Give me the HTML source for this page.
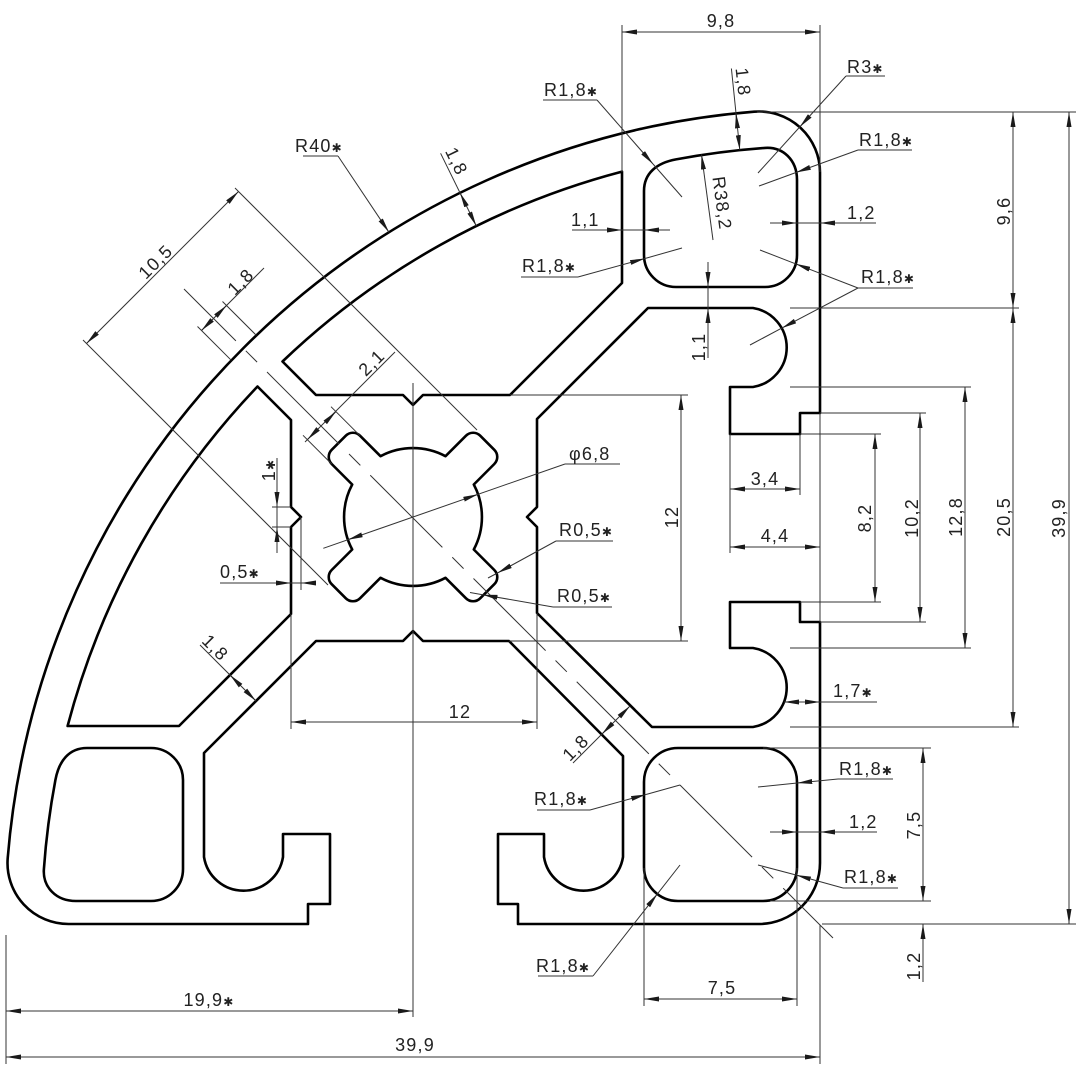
<!DOCTYPE html>
<html>
<head>
<meta charset="utf-8">
<style>
html,body{margin:0;padding:0;background:#fff;}
svg{display:block;}
.p{fill:none;stroke:#000;stroke-width:2.6;stroke-linejoin:round;stroke-linecap:round;}
.d line,.d path{fill:none;stroke:#333;stroke-width:1;}
text{font-family:"Liberation Sans","DejaVu Sans",sans-serif;font-size:18px;fill:#222;letter-spacing:1.2px;}
.s{font-family:"DejaVu Sans",sans-serif;font-size:12px;}
</style>
</head>
<body>
<svg width="1080" height="1080" viewBox="0 0 1080 1080" xmlns="http://www.w3.org/2000/svg">
<defs>
<marker id="a" viewBox="0 0 15 5" refX="15" refY="2.5" markerWidth="15" markerHeight="5" markerUnits="userSpaceOnUse" orient="auto-start-reverse"><path d="M0,0 L15,2.5 L0,5 Z" fill="#1a1a1a"/></marker>
</defs>
<rect width="1080" height="1080" fill="#fff"/>

<!-- PROFILE -->
<g class="p">
<path d="M754.1,111.7 A61,61 0 0 1 820,172.5 L820,413 L800,413 L800,434 L730,434 L730,387 L753,387 A40,40 0 0 0 753,308 L648,308 L537,419 L537,507 L527,517 L537,527 L537,613 L652,727 L753,727 A40,40 0 0 0 753,648 L730,648 L730,602 L800,602 L800,622 L820,622 L820,863 A61,61 0 0 1 759,924 L518,924 L518,904 L498,904 L498,834 L544,834 L544,857 A40,40 0 0 0 623,857 L623,756 L509,641 L423,641 L413,631 L403,641 L316,641 L204,753 L204,857 A40,40 0 0 0 283,857 L283,834 L330,834 L330,904 L308,904 L308,924 L68.5,924 A61,61 0 0 1 7.7,858.1 A815,815 0 0 1 754.1,111.7 Z"/>
<path d="M282.5,361.5 A778,778 0 0 1 622,171.6 L622,283 L510,395 L423,395 L413,405 L403,395 L316,395 Z"/>
<path d="M257.5,386.5 L291,420 L291,507 L301,517 L291,527 L291,614 L179,726 L67.6,726 A778,778 0 0 1 257.5,386.5 Z"/>
<path d="M644,191 C644,173 657,162.9 676,159.4 A778,778 0 0 1 765,147.9 C783,146.6 797,160 797,179.9 L797,255 A32,32 0 0 1 765,287 L676,287 A32,32 0 0 1 644,255 Z"/>
<path d="M87,748 C69,748 58.9,761 55.4,780 A778,778 0 0 0 43.9,869 C42.6,887 56,901 75.9,901 L151,901 A32,32 0 0 0 183,869 L183,780 A32,32 0 0 0 151,748 Z"/>
<path d="M678,748 L763,748 A34,34 0 0 1 797,782 L797,867 A34,34 0 0 1 763,901 L678,901 A34,34 0 0 1 644,867 L644,782 A34,34 0 0 1 678,748 Z"/>
<path d="M445.5,456.2 L466,435.7 A10,10 0 0 1 480.2,435.7 L494.3,449.8 A10,10 0 0 1 494.3,464 L473.8,484.5 A69,69 0 0 1 473.8,549.5 L494.3,570 A10,10 0 0 1 494.3,584.2 L480.2,598.3 A10,10 0 0 1 466,598.3 L445.5,577.8 A69,69 0 0 1 380.5,577.8 L360,598.3 A10,10 0 0 1 345.8,598.3 L331.7,584.2 A10,10 0 0 1 331.7,570 L352.2,549.5 A69,69 0 0 1 352.2,484.5 L331.7,464 A10,10 0 0 1 331.7,449.8 L345.8,435.7 A10,10 0 0 1 360,435.7 L380.5,456.2 A69,69 0 0 1 445.5,456.2 Z"/>
</g>

<!-- DIMENSIONS / EXTENSION LINES -->
<g class="d">
<line x1="184" y1="289" x2="833" y2="938" stroke-dasharray="102 14 16 14" stroke-dashoffset="28.6"/>
<line x1="413" y1="383" x2="413" y2="1017"/>

<line x1="622" y1="25" x2="622" y2="172"/>
<line x1="820" y1="25" x2="820" y2="172"/>
<line x1="622" y1="32" x2="820" y2="32" marker-start="url(#a)" marker-end="url(#a)"/>

<line x1="731.4" y1="68.5" x2="739.8" y2="150.1" marker-end="url(#a)"/>
<line x1="737.5" y1="128.2" x2="736" y2="113.3" marker-end="url(#a)"/>
<line x1="713" y1="240" x2="701.5" y2="154.5" marker-end="url(#a)"/>

<line x1="543" y1="100" x2="597" y2="100"/>
<line x1="597" y1="100" x2="653" y2="164" marker-end="url(#a)"/>
<line x1="653" y1="164" x2="682" y2="197"/>
<line x1="846" y1="76" x2="885" y2="76"/>
<line x1="846" y1="76" x2="799.7" y2="127" marker-end="url(#a)"/>
<line x1="799.7" y1="127" x2="758" y2="173"/>
<line x1="858" y1="150" x2="912" y2="150"/>
<line x1="858" y1="150" x2="796" y2="172.5" marker-end="url(#a)"/>
<line x1="796" y1="172.5" x2="759" y2="186"/>
<line x1="572" y1="230" x2="670" y2="230"/>
<line x1="607" y1="230" x2="622" y2="230" marker-end="url(#a)"/>
<line x1="659" y1="230" x2="644" y2="230" marker-end="url(#a)"/>
<line x1="770" y1="223" x2="876" y2="223"/>
<line x1="782" y1="223" x2="797" y2="223" marker-end="url(#a)"/>
<line x1="835" y1="223" x2="820" y2="223" marker-end="url(#a)"/>
<line x1="521" y1="277" x2="578" y2="277"/>
<line x1="578" y1="277" x2="645" y2="258.5" marker-end="url(#a)"/>
<line x1="645" y1="258.5" x2="682" y2="248"/>
<line x1="858" y1="288" x2="913" y2="288"/>
<line x1="858" y1="288" x2="795.5" y2="263.8" marker-end="url(#a)"/>
<line x1="795.5" y1="263.8" x2="760" y2="250"/>
<line x1="858" y1="288" x2="781.8" y2="328.1" marker-end="url(#a)"/>
<line x1="781.8" y1="328.1" x2="750" y2="345"/>
<line x1="708" y1="262" x2="708" y2="358"/>
<line x1="708" y1="272" x2="708" y2="287" marker-end="url(#a)"/>
<line x1="708" y1="323" x2="708" y2="308" marker-end="url(#a)"/>

<line x1="303" y1="156" x2="338" y2="156"/>
<line x1="338" y1="156" x2="389" y2="232.3" marker-end="url(#a)"/>
<line x1="440.6" y1="153.3" x2="476.3" y2="226" marker-end="url(#a)"/>
<line x1="466.6" y1="206.3" x2="460" y2="192.8" marker-end="url(#a)"/>

<line x1="235" y1="188" x2="477" y2="430"/>
<line x1="83" y1="340" x2="328" y2="585"/>
<line x1="86.5" y1="343.5" x2="238.5" y2="191.5" marker-start="url(#a)" marker-end="url(#a)"/>
<line x1="222.5" y1="301.5" x2="256.3" y2="335.3"/>
<line x1="197.5" y1="326.5" x2="231.3" y2="360.3"/>
<line x1="201.5" y1="330.5" x2="264" y2="268"/>
<line x1="212" y1="320" x2="201.5" y2="330.5" marker-end="url(#a)"/>
<line x1="216" y1="316" x2="226.5" y2="305.5" marker-end="url(#a)"/>
<line x1="331.7" y1="464" x2="303" y2="435.3"/>
<line x1="360" y1="435.7" x2="331" y2="406.7"/>
<line x1="305" y1="442" x2="395" y2="352"/>
<line x1="318" y1="429" x2="307.5" y2="439.5" marker-end="url(#a)"/>
<line x1="325.3" y1="422.3" x2="335.8" y2="411.8" marker-end="url(#a)"/>

<line x1="565" y1="464" x2="620" y2="464"/>
<line x1="565" y1="464" x2="323.3" y2="548.3"/>
<line x1="463.9" y1="499.2" x2="478.1" y2="494.3" marker-end="url(#a)"/>
<line x1="362.1" y1="534.8" x2="347.9" y2="539.7" marker-end="url(#a)"/>
<line x1="556" y1="541" x2="613" y2="541"/>
<line x1="556" y1="541" x2="497.5" y2="573" marker-end="url(#a)"/>
<line x1="497.5" y1="573" x2="488" y2="578"/>
<line x1="553" y1="607" x2="612" y2="607"/>
<line x1="553" y1="607" x2="482.6" y2="594.7" marker-end="url(#a)"/>
<line x1="482.6" y1="594.7" x2="470" y2="592.5"/>

<line x1="272" y1="507" x2="291" y2="507"/>
<line x1="272" y1="527" x2="291" y2="527"/>
<line x1="277" y1="458" x2="277" y2="553"/>
<line x1="277" y1="492" x2="277" y2="507" marker-end="url(#a)"/>
<line x1="277" y1="542" x2="277" y2="527" marker-end="url(#a)"/>
<line x1="301" y1="517" x2="301" y2="590"/>
<line x1="220" y1="583" x2="316" y2="583"/>
<line x1="276" y1="583" x2="291" y2="583" marker-end="url(#a)"/>
<line x1="316" y1="583" x2="301" y2="583" marker-end="url(#a)"/>

<line x1="200" y1="645" x2="256" y2="701" marker-end="url(#a)"/>
<line x1="240.6" y1="685.6" x2="230" y2="675" marker-end="url(#a)"/>
<line x1="573" y1="763" x2="630" y2="706" marker-end="url(#a)"/>
<line x1="612.6" y1="723.4" x2="602" y2="734" marker-end="url(#a)"/>

<line x1="291" y1="614" x2="291" y2="729"/>
<line x1="537" y1="613" x2="537" y2="729"/>
<line x1="291" y1="722" x2="537" y2="722" marker-start="url(#a)" marker-end="url(#a)"/>
<line x1="510" y1="395" x2="688" y2="395"/>
<line x1="509" y1="641" x2="688" y2="641"/>
<line x1="681" y1="395" x2="681" y2="641" marker-start="url(#a)" marker-end="url(#a)"/>

<line x1="730" y1="434" x2="730" y2="553"/>
<line x1="800" y1="434" x2="800" y2="495"/>
<line x1="820" y1="413" x2="820" y2="622"/>
<line x1="730" y1="489" x2="800" y2="489" marker-start="url(#a)" marker-end="url(#a)"/>
<line x1="730" y1="547" x2="820" y2="547" marker-start="url(#a)" marker-end="url(#a)"/>
<line x1="800" y1="434" x2="881" y2="434"/>
<line x1="800" y1="602" x2="881" y2="602"/>
<line x1="875" y1="434" x2="875" y2="602" marker-start="url(#a)" marker-end="url(#a)"/>
<line x1="820" y1="413" x2="926" y2="413"/>
<line x1="820" y1="622" x2="926" y2="622"/>
<line x1="920" y1="413" x2="920" y2="622" marker-start="url(#a)" marker-end="url(#a)"/>
<line x1="790" y1="387" x2="971" y2="387"/>
<line x1="790" y1="648" x2="971" y2="648"/>
<line x1="965" y1="387" x2="965" y2="648" marker-start="url(#a)" marker-end="url(#a)"/>
<line x1="790" y1="308" x2="1019" y2="308"/>
<line x1="790" y1="727" x2="1019" y2="727"/>
<line x1="1013" y1="308" x2="1013" y2="727" marker-start="url(#a)" marker-end="url(#a)"/>
<line x1="757" y1="112" x2="1076" y2="112"/>
<line x1="1013" y1="112" x2="1013" y2="308" marker-start="url(#a)" marker-end="url(#a)"/>
<line x1="822" y1="924" x2="1076" y2="924"/>
<line x1="1069" y1="112" x2="1069" y2="924" marker-start="url(#a)" marker-end="url(#a)"/>
<line x1="784" y1="702" x2="877" y2="702"/>
<line x1="799" y1="702" x2="784" y2="702" marker-end="url(#a)"/>
<line x1="805" y1="702" x2="820" y2="702" marker-end="url(#a)"/>

<line x1="838" y1="779" x2="893" y2="779"/>
<line x1="838" y1="779" x2="797.2" y2="783" marker-end="url(#a)"/>
<line x1="797.2" y1="783" x2="758" y2="787"/>
<line x1="770" y1="832" x2="877" y2="832"/>
<line x1="782" y1="832" x2="797" y2="832" marker-end="url(#a)"/>
<line x1="835" y1="832" x2="820" y2="832" marker-end="url(#a)"/>
<line x1="843" y1="888" x2="898" y2="888"/>
<line x1="843" y1="888" x2="796" y2="875" marker-end="url(#a)"/>
<line x1="796" y1="875" x2="758" y2="865"/>
<line x1="537" y1="810" x2="590" y2="810"/>
<line x1="590" y1="810" x2="646" y2="794.5" marker-end="url(#a)"/>
<line x1="646" y1="794.5" x2="680" y2="785"/>
<line x1="538" y1="976" x2="593" y2="976"/>
<line x1="593" y1="976" x2="657.4" y2="893.9" marker-end="url(#a)"/>
<line x1="657.4" y1="893.9" x2="680" y2="865"/>
<line x1="763" y1="748" x2="931" y2="748"/>
<line x1="770" y1="901" x2="931" y2="901"/>
<line x1="923" y1="748" x2="923" y2="901" marker-start="url(#a)" marker-end="url(#a)"/>
<line x1="923" y1="924" x2="923" y2="982"/>
<line x1="923" y1="939" x2="923" y2="924" marker-end="url(#a)"/>
<line x1="644" y1="868" x2="644" y2="1006"/>
<line x1="797" y1="868" x2="797" y2="1006"/>
<line x1="644" y1="999" x2="797" y2="999" marker-start="url(#a)" marker-end="url(#a)"/>

<line x1="6" y1="935" x2="6" y2="1064"/>
<line x1="820" y1="925" x2="820" y2="1064"/>
<line x1="6" y1="1011" x2="413" y2="1011" marker-start="url(#a)" marker-end="url(#a)"/>
<line x1="6" y1="1057" x2="820" y2="1057" marker-start="url(#a)" marker-end="url(#a)"/>
</g>

<!-- TEXT -->
<g>
<text x="721" y="27" text-anchor="middle">9,8</text>
<text x="544" y="96">R1,8<tspan class="s">✱</tspan></text>
<text x="847" y="73">R3<tspan class="s">✱</tspan></text>
<text x="859" y="146">R1,8<tspan class="s">✱</tspan></text>
<text x="847" y="219">1,2</text>
<text x="571" y="226">1,1</text>
<text x="522" y="272">R1,8<tspan class="s">✱</tspan></text>
<text x="861" y="283">R1,8<tspan class="s">✱</tspan></text>
<text x="295" y="152">R40<tspan class="s">✱</tspan></text>
<text x="569" y="460">φ6,8</text>
<text x="559" y="536">R0,5<tspan class="s">✱</tspan></text>
<text x="557" y="602">R0,5<tspan class="s">✱</tspan></text>
<text x="220" y="578">0,5<tspan class="s">✱</tspan></text>
<text x="765" y="485" text-anchor="middle">3,4</text>
<text x="775" y="542" text-anchor="middle">4,4</text>
<text x="460" y="718" text-anchor="middle">12</text>
<text x="833" y="697">1,7<tspan class="s">✱</tspan></text>
<text x="839" y="775">R1,8<tspan class="s">✱</tspan></text>
<text x="849" y="828">1,2</text>
<text x="844" y="883">R1,8<tspan class="s">✱</tspan></text>
<text x="534" y="805">R1,8<tspan class="s">✱</tspan></text>
<text x="536" y="972">R1,8<tspan class="s">✱</tspan></text>
<text x="722" y="994" text-anchor="middle">7,5</text>
<text x="209" y="1006" text-anchor="middle">19,9<tspan class="s">✱</tspan></text>
<text x="415" y="1051" text-anchor="middle">39,9</text>

<text transform="translate(1010,211) rotate(-90)" text-anchor="middle">9,6</text>
<text transform="translate(1010,517) rotate(-90)" text-anchor="middle">20,5</text>
<text transform="translate(1065,518) rotate(-90)" text-anchor="middle">39,9</text>
<text transform="translate(962,517) rotate(-90)" text-anchor="middle">12,8</text>
<text transform="translate(918,518) rotate(-90)" text-anchor="middle">10,2</text>
<text transform="translate(871,518) rotate(-90)" text-anchor="middle">8,2</text>
<text transform="translate(678,517) rotate(-90)" text-anchor="middle">12</text>
<text transform="translate(920,825) rotate(-90)" text-anchor="middle">7,5</text>
<text transform="translate(920,966) rotate(-90)" text-anchor="middle">1,2</text>
<text transform="translate(705,347) rotate(-90)" text-anchor="middle">1,1</text>
<text transform="translate(275,470) rotate(-90)" text-anchor="middle">1<tspan class="s">✱</tspan></text>

<text transform="translate(160,266) rotate(-45)" text-anchor="middle">10,5</text>
<text transform="translate(245,286) rotate(-45)" text-anchor="middle">1,8</text>
<text transform="translate(376,367) rotate(-45)" text-anchor="middle">2,1</text>
<text transform="translate(451,164) rotate(64)" text-anchor="middle">1,8</text>
<text transform="translate(737,82.6) rotate(84)" text-anchor="middle">1,8</text>
<text transform="translate(716,204) rotate(82.4)" text-anchor="middle">R38,2</text>
<text transform="translate(211,652) rotate(45)" text-anchor="middle">1,8</text>
<text transform="translate(580,752) rotate(-45)" text-anchor="middle">1,8</text>
</g>
</svg>
</body>
</html>
